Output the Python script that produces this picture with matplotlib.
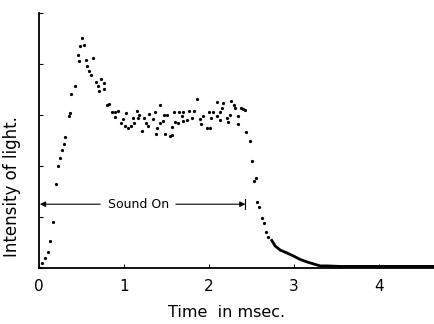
import matplotlib
matplotlib.use('Agg')
import matplotlib.pyplot as plt

# points (time in msec, intensity in arbitrary units)
rise_t = [0.01, 0.04, 0.07, 0.10, 0.13, 0.17, 0.20, 0.22, 0.25, 0.27, 0.29,
          0.31, 0.35, 0.36, 0.38, 0.42, 0.46, 0.47, 0.48, 0.51, 0.53, 0.55]
rise_i = [0.00, 0.09, 0.19, 0.32, 0.52, 0.91, 1.64, 1.99, 2.15, 2.31, 2.44,
          2.57, 2.97, 3.03, 3.42, 3.57, 4.18, 4.06, 4.35, 4.50, 4.37, 4.08]

fall_t = [0.57, 0.59, 0.61, 0.63, 0.67, 0.69, 0.71, 0.73, 0.76, 0.76, 0.80, 0.82]
fall_i = [3.96, 3.86, 3.78, 4.11, 3.65, 3.56, 3.46, 3.71, 3.62, 3.50, 3.20, 3.21]

plateau_t = [0.86, 0.89, 0.93, 0.89, 0.96, 0.99, 1.01, 1.02, 1.05, 1.08, 1.11,
             1.12, 1.15, 1.17, 1.18, 1.21, 1.24, 1.26, 1.28, 1.29, 1.34, 1.36,
             1.38, 1.39, 1.42, 1.42, 1.46, 1.47, 1.48, 1.51, 1.54, 1.56, 1.57,
             1.59, 1.60, 1.64, 1.65, 1.68, 1.69, 1.70, 1.74, 1.76, 1.80, 1.82,
             1.86, 1.89, 1.91, 1.93, 1.98, 2.00, 2.01, 2.03, 2.05, 2.09, 2.09,
             2.13, 2.13, 2.15, 2.17, 2.21, 2.23, 2.25, 2.26, 2.29, 2.31, 2.34,
             2.34, 2.38, 2.40, 2.42]
plateau_i = [3.05, 3.06, 3.08, 2.96, 2.85, 2.92, 2.78, 3.03, 2.75, 2.79, 2.95,
             2.84, 3.08, 2.94, 3.00, 2.69, 2.95, 2.84, 2.78, 3.01, 2.92, 3.05,
             2.62, 2.74, 3.20, 2.85, 2.88, 3.00, 2.62, 3.00, 2.59, 2.61, 2.77,
             3.05, 2.87, 2.84, 3.05, 2.97, 2.88, 3.06, 2.90, 3.08, 2.95, 3.08,
             3.31, 2.92, 2.82, 2.97, 2.75, 3.05, 2.75, 2.94, 3.05, 3.25, 2.98,
             3.05, 2.90, 3.14, 3.23, 2.95, 2.87, 3.00, 3.28, 3.20, 3.14, 2.97,
             2.82, 3.14, 3.12, 3.10]

decay_t = [2.44, 2.48, 2.51, 2.53, 2.55, 2.57, 2.59, 2.62, 2.65, 2.67, 2.69]
decay_i = [2.67, 2.48, 2.09, 1.71, 1.76, 1.30, 1.19, 0.97, 0.89, 0.71, 0.61]

tail_t = [2.74, 2.78, 2.84, 2.91, 2.99, 3.07, 3.15, 3.23, 3.31, 3.40, 3.54,
          3.70, 3.90, 4.10, 4.30, 4.50, 4.65]
tail_i = [0.54, 0.43, 0.35, 0.30, 0.24, 0.17, 0.12, 0.08, 0.04, 0.04, 0.03,
          0.03, 0.03, 0.03, 0.03, 0.03, 0.03]

sound_on = (0.0, 2.43)   # msec
arrow_level = 1.25

fig = plt.figure(figsize=(4.34, 3.24), dpi=100)
ax = fig.add_axes([0.09, 0.173, 0.91, 0.787])

dot = dict(linestyle='none', marker='o', markersize=1.3, color='black')
ax.plot(rise_t, rise_i, **dot)
ax.plot(fall_t, fall_i, **dot)
ax.plot(plateau_t, plateau_i, **dot)
ax.plot(decay_t, decay_i, **dot)
ax.plot(tail_t, tail_i, color='black', lw=2.0)

# "Sound On" bar
ax.annotate('', xy=(sound_on[0] + 0.01, arrow_level), xytext=(0.72, arrow_level),
            arrowprops=dict(arrowstyle='-|>', color='black', lw=0.8,
                            mutation_scale=8, shrinkA=0, shrinkB=0))
ax.annotate('', xy=(sound_on[1], arrow_level), xytext=(1.61, arrow_level),
            arrowprops=dict(arrowstyle='-|>', color='black', lw=0.8,
                            mutation_scale=8, shrinkA=0, shrinkB=0))
ax.plot([sound_on[1], sound_on[1]], [arrow_level - 0.1, arrow_level + 0.1],
        color='black', lw=0.8)
ax.text(1.17, arrow_level, 'Sound On', fontsize=9, ha='center', va='center')

ax.set_xlim(0, 4.65)
ax.set_ylim(0, 5)
ax.set_xticks([0, 1, 2, 3, 4])
ax.set_xticklabels(['0', '1', '2', '3', '4'])
ax.set_yticks([0, 1, 2, 3, 4, 5])
ax.set_yticklabels([])
ax.tick_params(direction='in', length=3, width=0.8, labelsize=11, pad=8)

for s in ['top', 'right']:
    ax.spines[s].set_visible(False)
for s in ['left', 'bottom']:
    ax.spines[s].set_linewidth(1.3)

ax.set_xlabel('Time  in msec.', fontsize=11.5)
ax.xaxis.set_label_coords(0.475, -0.145)
ax.set_ylabel('Intensity of light.', fontsize=12)
ax.yaxis.set_label_coords(-0.045, 0.32)

fig.savefig('out.png', dpi=100)
